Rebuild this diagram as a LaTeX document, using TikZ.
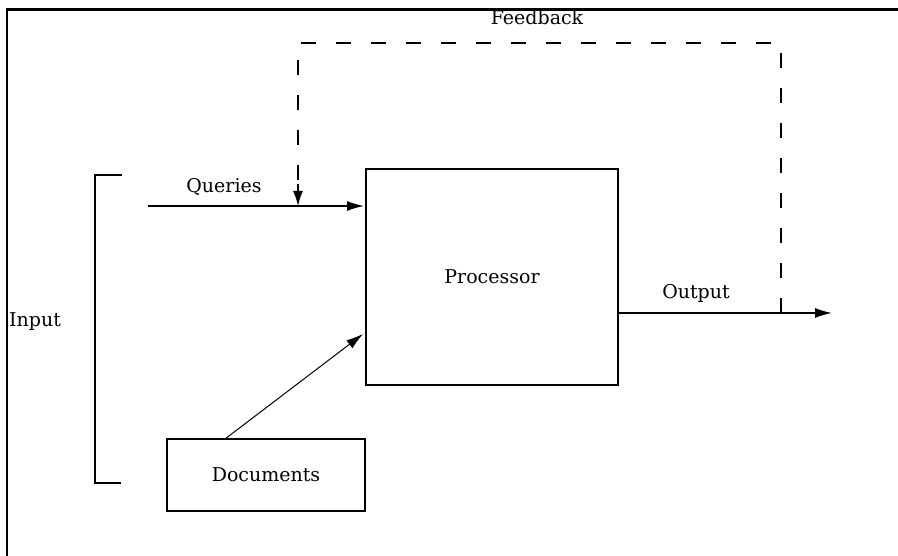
\documentclass[tikz,border=0pt]{standalone}
\usepackage{fontspec}
\setmainfont{DejaVu Serif}
\usetikzlibrary{arrows.meta}
\begin{document}
\begin{tikzpicture}[x=1pt,y=-1pt,
    box/.style={draw,line width=1.5pt,inner sep=0pt},
    lbl/.style={font=\fontsize{19}{21}\selectfont,inner sep=0pt},
    tip/.style={-{Latex[length=17pt,width=10pt]}},
    flow/.style={line width=1.4pt,tip},
    fb/.style={line width=1.4pt,dash pattern=on 15pt off 20pt}]
  \useasboundingbox (0,0) rectangle (898,556);
  % frame edges
  \draw[line width=2.8pt] (6,9.5) -- (898,9.5);
  \draw[line width=2.2pt] (7,9.5) -- (7,556);

  % blocks
  \node[box,minimum width=252pt,minimum height=216pt] (proc) at (492,277) {};
  \node[lbl] at (proc.center) {Processor};
  \node[box,minimum width=198pt,minimum height=72pt] (docs) at (266,475) {};
  \node[lbl] at (docs.center) {Documents};

  % input bracket
  \coordinate (bt) at (95,175);
  \coordinate (bb) at (95,483);
  \draw[line width=1.5pt] (122,175) -- (bt) -- (bb) -- (121,483);
  \node[lbl,anchor=west] (inp) at (9,322) {Input};

  % queries
  \coordinate (qs) at (148,206);
  \draw[flow] (qs) -- (364,206) coordinate (qe);
  \node[lbl] (ql) at (224,187) {Queries};

  % documents into processor
  \coordinate (ds) at (225,439);
  \draw[line width=1pt,tip] (ds) -- (363,334);

  % output
  \coordinate (os) at (618,313);
  \coordinate (oe) at (832,313);
  \draw[flow] (os) -- (oe);
  \node[lbl] (ol) at (696,293) {Output};

  % feedback loop
  \coordinate (fa) at (781,313);
  \coordinate (fb1) at (781,43);
  \coordinate (fb2) at (298,43);
  \coordinate (fq) at (298,206);
  \draw[fb] (fa) -- (fb1) -- (fb2) -- (298,188);
  \draw[line width=1.4pt,-{Latex[length=15pt,width=10pt]}] (298,184) -- (fq);
  \node[lbl] (fl) at (537,17) {Feedback};
\end{tikzpicture}
\end{document}
